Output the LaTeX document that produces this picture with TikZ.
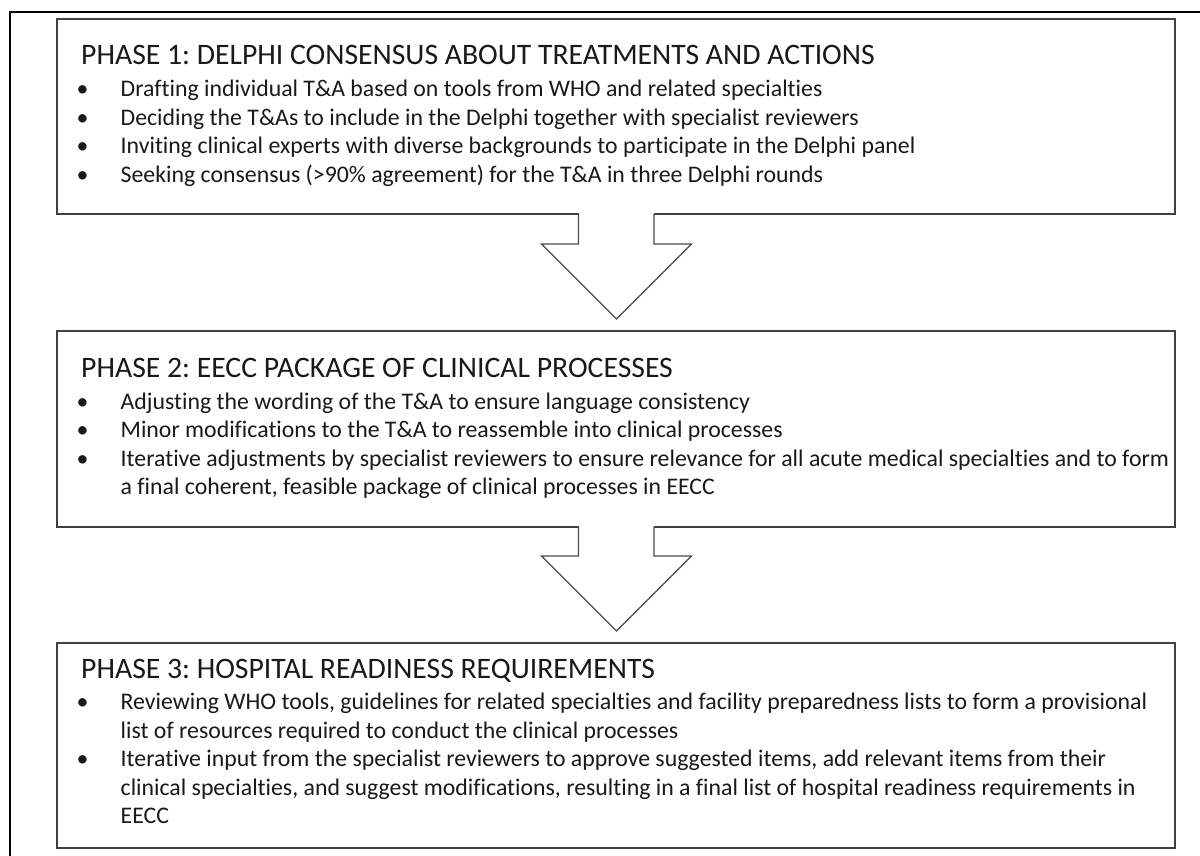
\documentclass[tikz,border=0pt]{standalone}
\usepackage{fontspec}
\setmainfont[RawFeature=-liga]{Carlito}
\usepackage{array}
\usetikzlibrary{calc}
\frenchspacing

\newcommand{\phasetitle}[1]{\multicolumn{2}{@{}l@{}}{\fontsize{29.7}{30}\selectfont #1}}
\newcommand{\bl}{\hspace*{-4.5pt}\textbullet}

\begin{document}
\begin{tikzpicture}[x=1pt, y=-1pt]
\tikzstyle{phase}=[draw=black!75, line width=1.3pt, minimum width=1118pt,
                        inner sep=0pt, outer sep=0pt]
\tikzstyle{txt}=[anchor=base west, inner sep=0pt, text=black!90,
                        font=\fontsize{23.8}{28.5}\selectfont]
\tikzstyle{blk}=[draw=black!70, line width=1.1pt, line join=miter]
\fill[white] (0,0) rectangle (1200,856);
\useasboundingbox (0,0) rectangle (1200,856);
% outer frame
\draw[line width=2pt] (10,856) -- (10,12) -- (1200,12);
\node[phase, minimum height=195pt] (p1) at (616,116.5) {};
\node[phase, minimum height=196pt] (p2) at (616,429) {};
\node[phase, minimum height=205pt] (p3) at (616,745.5) {};
\node[txt] (t1) at (81,65) {\begin{tabular}[t]{@{}p{39.5pt}@{}l@{}}
\phasetitle{PHASE 1: DELPHI CONSENSUS ABOUT TREATMENTS AND ACTIONS}\\[3.5pt]
\bl & Drafting individual T\&A based on tools from WHO and related specialties\\
\bl & Deciding the T\&As to include in the Delphi together with specialist reviewers\\
\bl & Inviting clinical experts with diverse backgrounds to participate in the Delphi panel\\
\bl & Seeking consensus (>90\% agreement) for the T\&A in three Delphi rounds
\end{tabular}};
\node[txt] (t2) at (81,377) {\begin{tabular}[t]{@{}p{39.5pt}@{}l@{}}
\phasetitle{PHASE 2: EECC PACKAGE OF CLINICAL PROCESSES}\\[3.5pt]
\bl & Adjusting the wording of the T\&A to ensure language consistency\\
\bl & Minor modifications to the T\&A to reassemble into clinical processes\\
\bl & Iterative adjustments by specialist reviewers to ensure relevance for all acute medical specialties and to form\\
    & a final coherent, feasible package of clinical processes in EECC
\end{tabular}};
\node[txt] (t3) at (81,678) {\begin{tabular}[t]{@{}p{39.5pt}@{}l@{}}
\phasetitle{PHASE 3: HOSPITAL READINESS REQUIREMENTS}\\[3pt]
\bl & Reviewing WHO tools, guidelines for related specialties and facility preparedness lists to form a provisional\\
    & list of resources required to conduct the clinical processes\\
\bl & Iterative input from the specialist reviewers to approve suggested items, add relevant items from their\\
    & clinical specialties, and suggest modifications, resulting in a final list of hospital readiness requirements in\\
    & EECC
\end{tabular}};
% block arrows between the phases
\foreach \a/\b in {p1/p2, p2/p3}{
 \coordinate (tip) at ($(\b.north)+(0.5,-12)$);
 \fill[white] ($(\a.south)+(-37.5,-1.5)$) rectangle ($(\a.south)+(38,1.5)$);
 \draw[blk] ($(\a.south)+(-37.5,0)$) |- ($(tip)+(-75,-75)$) -- (tip)
      -- ($(tip)+(75,-75)$) -| ($(\a.south)+(38,0)$);
}
\end{tikzpicture}
\end{document}
